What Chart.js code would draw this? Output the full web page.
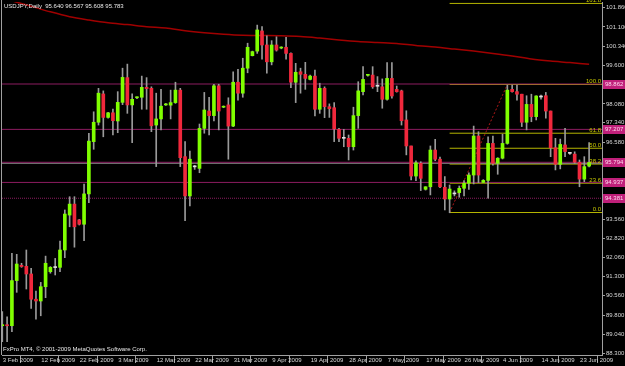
<!DOCTYPE html>
<html>
<head>
<meta charset="utf-8">
<script src="https://cdn.jsdelivr.net/npm/chart.js@4/dist/chart.umd.min.js"></script>
<style>
  html, body { margin: 0; padding: 0; background: #000; }
  canvas { display: block; }
</style>
</head>
<body>
<canvas id="chart" width="625" height="366"></canvas>
<script>
// USDJPY daily bars, 3 Feb 2009 .. 25 Jun 2009 (bar index 0..122)
const opens = [89.38,89.40,89.38,91.15,91.75,91.71,91.41,90.42,90.35,90.91,91.50,91.66,91.67,92.35,93.72,94.15,93.53,93.36,94.55,96.60,
  97.36,98.47,97.55,97.73,97.41,98.14,99.11,98.04,98.32,98.34,98.73,98.69,97.25,97.49,98.04,98.03,98.13,98.62,96.01,94.47,
  95.61,95.55,97.12,97.80,97.62,98.79,97.95,98.04,97.21,98.93,98.50,99.48,99.97,100.15,100.94,100.39,99.73,100.39,100.27,100.30,
  100.06,98.93,99.34,99.24,99.04,99.17,97.87,98.69,97.97,97.93,97.08,96.74,96.73,96.40,97.62,98.56,99.20,99.21,98.77,98.75,
  98.26,99.08,98.65,98.59,97.45,96.43,95.25,95.75,94.73,94.83,96.27,95.91,94.81,94.35,94.55,94.60,94.77,94.97,95.29,96.82,
  95.00,95.08,96.53,95.75,95.95,96.53,98.65,98.56,98.46,97.36,98.06,97.58,98.35,98.40,97.80,96.36,95.71,96.47,96.15,96.11,
  95.79,95.13,95.640];
const highs = [89.93,89.73,92.22,92.18,91.83,92.35,91.63,90.74,91.08,92.11,91.70,92.02,92.70,93.92,94.44,94.44,93.55,94.94,96.93,97.77,
  98.69,98.59,97.75,97.88,98.56,99.48,99.64,98.47,98.36,99.17,99.11,98.75,98.50,98.65,98.10,98.62,98.93,98.69,96.60,96.23,
  95.67,97.29,98.53,98.34,98.85,98.85,98.00,98.32,99.34,99.44,99.87,100.46,100.15,101.17,101.11,100.75,100.56,100.71,100.32,100.69,
  100.08,99.67,99.48,99.71,99.21,99.41,98.89,98.75,98.08,98.13,97.12,97.08,96.86,97.95,98.95,99.54,99.24,99.54,99.15,99.06,
  99.70,99.70,98.78,98.62,97.81,96.43,95.85,95.81,94.83,96.43,96.69,95.99,95.23,94.90,94.67,94.86,95.07,95.38,97.21,96.99,
  95.11,96.79,96.82,95.97,96.89,98.82,98.82,98.82,98.46,98.40,98.46,98.40,98.43,98.53,97.80,96.73,96.70,97.12,96.17,96.20,
  95.88,96.01,96.567];
const lows = [88.75,88.75,89.15,90.69,91.67,90.82,90.06,89.64,89.77,90.48,91.44,91.37,91.50,92.05,93.26,92.46,93.33,92.72,94.21,96.30,
  97.25,96.79,97.52,96.86,96.95,98.05,97.71,96.56,98.28,97.87,97.87,96.99,95.62,97.06,98.02,97.49,98.10,95.62,93.50,94.08,
  95.51,95.38,96.93,96.86,97.41,97.06,97.93,95.91,97.19,98.23,98.34,99.30,99.96,100.06,99.83,99.28,99.61,100.15,100.24,99.83,
  98.72,98.13,98.50,98.65,99.02,97.61,97.71,97.54,97.55,96.60,96.60,96.40,95.88,96.27,97.12,98.43,99.17,98.69,98.56,97.91,
  98.23,98.30,98.54,97.25,96.08,95.10,95.07,94.68,94.70,94.51,95.85,94.79,93.92,93.81,94.47,94.42,94.47,94.73,94.94,94.99,
  94.99,94.38,95.68,95.32,95.92,96.50,98.54,98.23,97.19,97.06,97.38,97.45,98.27,97.52,96.01,95.49,95.53,96.01,96.10,95.75,
  94.83,95.03,95.608];
const closes = [89.40,89.38,91.15,91.80,91.70,91.41,90.42,90.35,90.91,91.83,91.67,91.67,92.35,93.76,94.15,93.26,93.36,94.55,96.62,97.36,
  98.50,97.55,97.73,97.42,98.14,99.12,98.04,98.26,98.34,98.73,98.68,97.22,97.49,97.99,98.06,98.13,98.62,95.97,94.47,95.91,
  95.62,97.12,97.84,97.62,98.79,97.80,97.97,97.21,98.93,98.50,99.48,100.30,100.13,100.98,100.39,99.73,100.39,100.19,100.30,100.06,
  98.93,99.32,99.24,99.08,99.17,97.87,98.69,97.97,97.89,97.10,96.73,96.73,96.40,97.62,98.59,99.04,99.22,98.75,98.78,98.26,
  99.08,98.39,98.56,97.42,96.43,95.25,95.77,95.16,94.83,96.27,95.91,94.83,94.35,94.74,94.56,94.77,94.97,95.29,96.82,95.29,
  95.08,96.53,95.75,95.95,96.53,98.62,98.56,98.46,97.36,98.06,97.58,98.39,98.36,97.80,96.36,95.71,96.49,96.21,96.14,95.79,
  95.13,95.62,95.783];

// moving average, read at a few bars
const maIdx = [0,3,6,10,14,18,22,26,30,34,38,42,46,50,54,58,62,66,70,74,78,82,86,90,94,98,102,106,110,114,118,122];
const maValues = [102.22,102.07,101.91,101.69,101.50,101.37,101.26,101.19,101.11,101.06,100.95,100.87,100.81,100.77,100.76,100.75,
  100.72,100.66,100.59,100.53,100.49,100.45,100.37,100.31,100.23,100.15,100.06,99.96,99.84,99.76,99.70,99.63];

// horizontal levels and their price tags
const levelValues = [98.86, 97.08, 95.79, 95.00, 94.38];
const levelLabels = ["98.862", "97.207", "95.794", "94.937", "94.381"];
const bidValue = 95.75;

// fibonacci retracement
const fibValues = [93.82, 94.97, 95.72, 96.34, 96.93, 98.84, 102.02];
const fibLabels = ["0.0", "23.6", "38.2", "50.0", "61.8", "100.0", "161.8"];
const fibStartIdx = 93;
const trendIdx = [93, 105];
const trendValues = [93.82, 98.84];

const xTickIdx = [0,8,16,24,32,40,48,56,64,72,80,88,96,104,112,120];
const xTickLabels = ["3 Feb 2009","12 Feb 2009","22 Feb 2009","3 Mar 2009","12 Mar 2009","22 Mar 2009","31 Mar 2009","9 Apr 2009",
  "19 Apr 2009","28 Apr 2009","7 May 2009","17 May 2009","26 May 2009","4 Jun 2009","14 Jun 2009","23 Jun 2009"];
const yTickValues = [101.86,101.10,100.34,99.60,98.08,97.34,96.58,93.56,92.82,92.06,91.30,90.56,89.80,89.04,88.30];

const X_MIN = -0.06, X_MAX = 124.68;
const Y_MIN = 88.232, Y_MAX = 102.076;
const FONT = "'Liberation Sans', Arial, sans-serif";
const FONT_SIZE = 6;

Chart.defaults.font.family = FONT;
Chart.defaults.font.size = FONT_SIZE;
Chart.defaults.color = "#d8d8d8";

const idx = opens.map((o, i) => i);

function bodyColor(i) {
  const d = closes[i] - opens[i];
  if (Math.abs(d) < 0.015) return "#e0e0e0";
  return d > 0 ? "#80ff00" : "#f0283c";
}

function hline(value, from, color, dash) {
  return {
    type: "line",
    data: [{ x: from, y: value }, { x: X_MAX, y: value }],
    borderColor: color,
    borderWidth: 1,
    borderDash: dash || [],
    pointRadius: 0,
  };
}

const datasets = [
  {
    type: "bar",
    data: idx.map((i) => ({ x: i, y: [opens[i], closes[i]] })),
    backgroundColor: idx.map(bodyColor),
    barThickness: 3,
    minBarLength: 1,
    grouped: false,
  },
  {
    type: "bar",
    data: idx.map((i) => ({ x: i, y: [lows[i], highs[i]] })),
    backgroundColor: "#9a9a9a",
    barThickness: 1,
    grouped: false,
  },
  {
    type: "line",
    data: maIdx.map((x, k) => ({ x: x, y: maValues[k] })),
    borderColor: "#a00000",
    borderWidth: 1.5,
    pointRadius: 0,
    tension: 0.3,
  },
  {
    type: "line",
    data: trendIdx.map((x, k) => ({ x: x, y: trendValues[k] })),
    borderColor: "#b01818",
    borderWidth: 1,
    borderDash: [2, 2],
    pointRadius: 0,
  },
];
levelValues.forEach((v, k) => {
  datasets.push(hline(v, X_MIN, "#8c1c60", k === levelValues.length - 1 ? [1, 1] : []));
});
datasets.push(hline(bidValue, X_MIN, "#8a8a8a"));
fibValues.forEach((v) => datasets.push(hline(v, fibStartIdx, "#b4b400")));

const overlay = {
  id: "overlay",
  afterDraw(chart) {
    const ctx = chart.ctx;
    const area = chart.chartArea;
    const y = chart.scales.y;
    ctx.save();
    // left frame line
    ctx.strokeStyle = "#a0a0a0";
    ctx.lineWidth = 1;
    ctx.beginPath();
    ctx.moveTo(1.5, 0);
    ctx.lineTo(1.5, area.bottom);
    ctx.stroke();

    ctx.font = FONT_SIZE + "px " + FONT;
    ctx.textBaseline = "middle";
    ctx.fillStyle = "#e8e8e8";
    ctx.textAlign = "left";
    ctx.fillText("USDJPY,Daily  95.640 96.567 95.608 95.783", 4, 6);
    ctx.fillText("FxPro MT4, \u00a9 2001-2009 MetaQuotes Software Corp.", 3, 349);

    // fib labels
    ctx.fillStyle = "#c8c800";
    ctx.textAlign = "right";
    ctx.textBaseline = "alphabetic";
    fibValues.forEach((v, k) => {
      ctx.fillText(fibLabels[k], area.right - 1, y.getPixelForValue(v) - 1.5);
    });

    // price tags
    ctx.textAlign = "left";
    ctx.textBaseline = "middle";
    levelValues.forEach((v, k) => {
      const py = Math.round(y.getPixelForValue(v));
      ctx.fillStyle = "#c0207a";
      ctx.fillRect(area.right + 1, py - 4, chart.width - area.right - 1, 9);
      ctx.fillStyle = "#ffd6ee";
      ctx.fillText(levelLabels[k], area.right + 3, py + 0.5);
    });
    ctx.restore();
  },
};

new Chart(document.getElementById("chart"), {
  data: { datasets: datasets },
  options: {
    responsive: false,
    animation: false,
    devicePixelRatio: 1,
    layout: { padding: { left: 2, top: 2, right: 0, bottom: 0 } },
    plugins: { legend: { display: false }, tooltip: { enabled: false } },
    scales: {
      x: {
        type: "linear",
        min: X_MIN,
        max: X_MAX,
        offset: false,
        afterBuildTicks: (s) => { s.ticks = xTickIdx.map((v) => ({ value: v - 0.3 })); },
        afterFit: (s) => { s.height = 11; s.paddingLeft = 0; s.paddingRight = 0; },
        grid: { drawOnChartArea: false, drawTicks: true, tickLength: 8, color: "#a0a0a0" },
        border: { display: true, color: "#a0a0a0" },
        ticks: {
          align: "start",
          labelOffset: 2,
          padding: -6,
          minRotation: 0,
          maxRotation: 0,
          autoSkip: false,
          color: "#d8d8d8",
          callback: (v, i) => xTickLabels[i],
        },
      },
      y: {
        type: "linear",
        position: "right",
        min: Y_MIN,
        max: Y_MAX,
        afterBuildTicks: (s) => { s.ticks = yTickValues.map((v) => ({ value: v })); },
        afterFit: (s) => { s.width = 23; s.paddingTop = 0; s.paddingBottom = 0; },
        grid: { drawOnChartArea: false, drawTicks: true, tickLength: 3, color: "#a0a0a0" },
        border: { display: true, color: "#a0a0a0" },
        ticks: {
          padding: 1,
          autoSkip: false,
          color: "#d8d8d8",
          callback: (v) => Number(v).toFixed(3),
        },
      },
    },
  },
  plugins: [overlay],
});
</script>
</body>
</html>
